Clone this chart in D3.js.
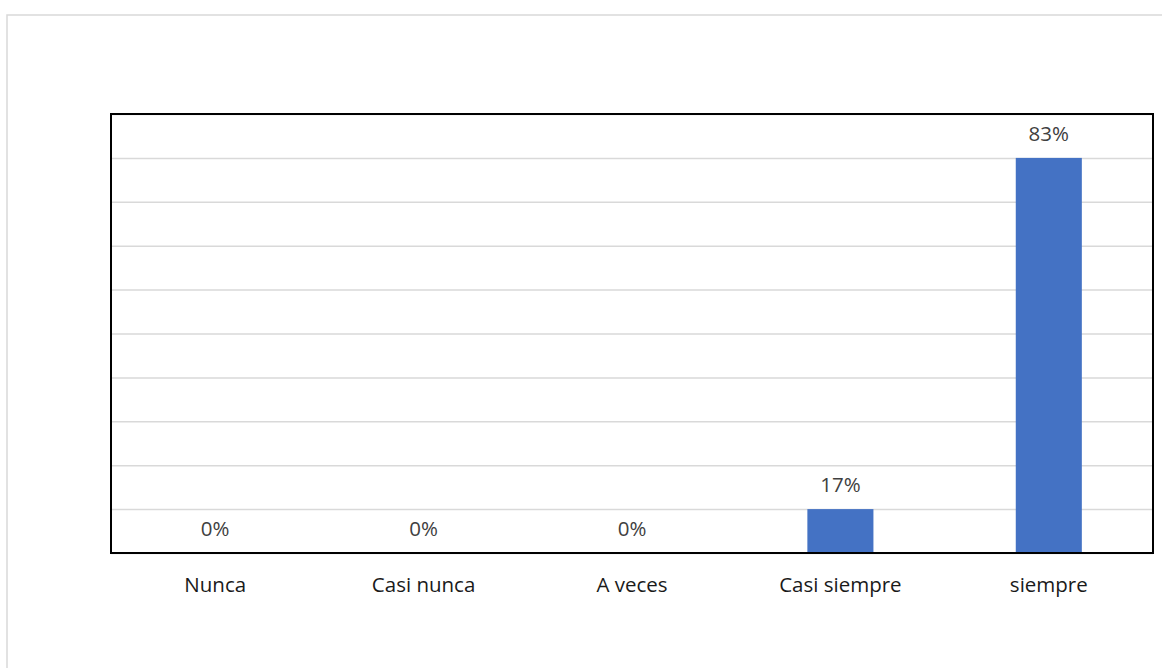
<!DOCTYPE html>
<html>
  <head>
    <meta charset="utf-8">
    <title></title>
    <style>
      body {
        margin: 0;
        background: #fff;
        font-family: "Open Sans", sans-serif;
      }
      svg {
        display: block;
      }
      .grid line {
        stroke: #d9d9d9;
        stroke-width: 1.5;
      }
      .grid .domain {
        stroke: none;
      }
      .value {
        fill: #404040;
        font-size: 20.5px;
      }
      .cat {
        fill: #1a1a1a;
        font-size: 20.5px;
      }
    </style>
  </head>
  <body>
    <div id="chart"></div>
    <script src="https://cdn.jsdelivr.net/npm/d3@7"></script>
    <script>
      let categories = ['Nunca', 'Casi nunca', 'A veces', 'Casi siempre', 'siempre'];
      let values = [0, 0, 0, 0.17, 0.83];
      let labels = ['0%', '0%', '0%', '17%', '83%'];

      // value axis as set in the original sheet (min / max / major unit)
      let axisMin = 0.0875;
      let axisMax = 0.9125;
      let axisStep = 0.0825;

      let data = categories.map((c, i) => ({cat: c, value: values[i], label: labels[i]}));

      let elWidth = 1162;
      let elHeight = 668;

      let svg = d3.select('#chart').append('svg')
        .attr('width', elWidth)
        .attr('height', elHeight);

      // chart area border
      svg.append('rect')
        .attr('x', 7)
        .attr('y', 15)
        .attr('width', elWidth)
        .attr('height', elHeight)
        .attr('fill', 'none')
        .attr('stroke', '#d9d9d9')
        .attr('stroke-width', 1.5);

      let margin = {top: 114, right: 9, bottom: 115, left: 111};
      let width = elWidth - margin.left - margin.right;
      let height = elHeight - margin.top - margin.bottom;

      let g = svg.append('g').attr('transform', 'translate(' + margin.left + ',' + margin.top + ')');

      let x = d3.scaleBand()
        .domain(categories)
        .range([0, width])
        .paddingInner(0.683)
        .paddingOuter(0.683 / 2);

      let y = d3.scaleLinear()
        .domain([axisMin, axisMax])
        .range([height, 0])
        .clamp(true);

      let ticks = d3.range(axisMin, axisMax + axisStep / 2, axisStep);

      g.append('g')
        .attr('class', 'grid')
        .call(d3.axisLeft(y).tickValues(ticks).tickSize(-width).tickFormat(''));

      g.selectAll('.bar')
        .data(data)
        .enter().append('rect')
        .attr('class', 'bar')
        .attr('x', d => x(d.cat))
        .attr('width', x.bandwidth())
        .attr('y', d => y(d.value))
        .attr('height', d => height - y(d.value))
        .attr('fill', '#4472c4');

      g.selectAll('.value')
        .data(data)
        .enter().append('text')
        .attr('class', 'value')
        .attr('x', d => x(d.cat) + x.bandwidth() / 2)
        .attr('y', d => y(d.value) - 17)
        .attr('text-anchor', 'middle')
        .text(d => d.label);

      g.selectAll('.cat')
        .data(data)
        .enter().append('text')
        .attr('class', 'cat')
        .attr('x', d => x(d.cat) + x.bandwidth() / 2)
        .attr('y', height + 39)
        .attr('text-anchor', 'middle')
        .text(d => d.cat);

      // plot area border
      g.append('rect')
        .attr('width', width)
        .attr('height', height)
        .attr('fill', 'none')
        .attr('stroke', '#000')
        .attr('stroke-width', 2);
    </script>
  </body>
</html>
